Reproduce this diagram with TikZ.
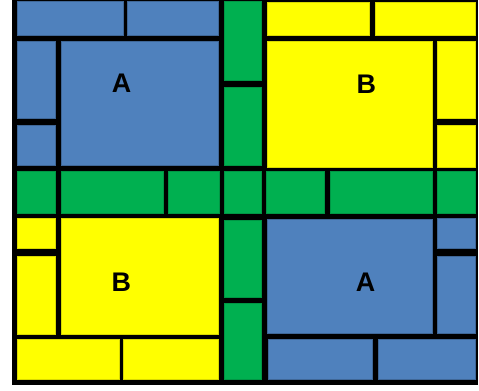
\documentclass[tikz,border=0pt]{standalone}
\usepackage{fontspec}
\setmainfont{Liberation Sans}
\definecolor{cblue}{HTML}{4F81BD}
\definecolor{cyellow}{HTML}{FFFF00}
\definecolor{cgreen}{HTML}{00B050}
\tikzset{
  bcell/.style={fill=cblue,draw=cblue!80!black,line width=0.6bp},
  ycell/.style={fill=cyellow,draw=cyellow!85!black,line width=0.6bp},
  gcell/.style={fill=cgreen,draw=cgreen!85!black,line width=0.6bp},
  lbl/.style={inner sep=0pt,font=\fontsize{27}{30}\selectfont\bfseries}
}
\begin{document}
\begin{tikzpicture}[x=1bp,y=-1bp]
\useasboundingbox (0,0) rectangle (479,390);
\fill[black] (12,0) rectangle (477.5,385);
% top-left blue
\path[bcell] (17,1.7) rectangle (123,35.7);
\path[bcell] (127.7,1.7) rectangle (218.7,35.7);
\path[bcell] (17,41) rectangle (55.7,118.7);
\path[bcell] (17,125) rectangle (55.7,165.7);
\path[bcell] (61,41) rectangle (218.7,165.7);
% top green column
\path[gcell] (224.5,1.7) rectangle (261.7,80);
\path[gcell] (224.5,87) rectangle (261.7,165.7);
% top-right yellow
\path[ycell] (267.7,2.5) rectangle (369.3,35.7);
\path[ycell] (375.7,2.5) rectangle (475.5,35.7);
\path[ycell] (267.7,41.3) rectangle (432.3,167);
\path[ycell] (437.3,41.3) rectangle (475.5,118.3);
\path[ycell] (437.3,125) rectangle (475.5,167);
% middle green row
\path[gcell] (17,171) rectangle (55.7,213.3);
\path[gcell] (61,171) rectangle (163.7,213.3);
\path[gcell] (168.3,171) rectangle (219.7,213.3);
\path[gcell] (224.7,171) rectangle (261.7,213.3);
\path[gcell] (266.7,171) rectangle (324.3,213.3);
\path[gcell] (330,171) rectangle (432.3,213.3);
\path[gcell] (437.3,171) rectangle (475.5,213.3);
% bottom-left yellow
\path[ycell] (17,218.3) rectangle (55.7,248.3);
\path[ycell] (17,256.3) rectangle (55.7,334);
\path[ycell] (61,218.3) rectangle (218.7,334);
\path[ycell] (17,339) rectangle (119,379.3);
\path[ycell] (123.3,339) rectangle (218.7,379.3);
% bottom green column
\path[gcell] (224.7,220) rectangle (261.7,297.3);
\path[gcell] (224.7,303.7) rectangle (261.7,379.3);
% bottom-right blue
\path[bcell] (267.3,219.3) rectangle (432.3,333.3);
\path[bcell] (437.3,218.3) rectangle (475.5,248.3);
\path[bcell] (437.3,256.3) rectangle (475.5,333.3);
\path[bcell] (268.3,339) rectangle (372,379.3);
\path[bcell] (378.3,339) rectangle (475.5,379.3);
% labels
\node[lbl] (la1) at (121.5,83.5) {A};
\node[lbl] (lb1) at (366.3,83.8) {B};
\node[lbl] (lb2) at (121.3,282) {B};
\node[lbl] (la2) at (365.5,282.5) {A};
\end{tikzpicture}
\end{document}
